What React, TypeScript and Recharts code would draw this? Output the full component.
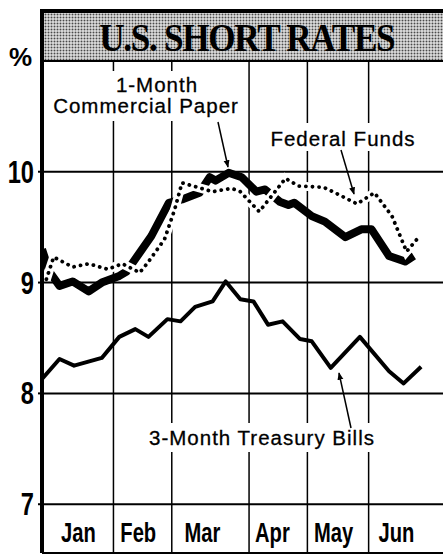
import { LineChart, Line, XAxis, YAxis, ReferenceLine, CartesianGrid } from "recharts";

// weeks since start of Jan (x), rate in % (y)
const tbillWeek = [0, 1.2, 2.2, 4.1, 5.3, 6.4, 7.3, 8.6, 9.5, 10.5, 11.7, 12.6, 13.6, 14.5, 15.5, 16.5, 17.7, 18.5, 19.8, 21.8, 23.8, 24.8, 26.0];
const tbillRate = [8.13, 8.31, 8.25, 8.32, 8.51, 8.58, 8.51, 8.67, 8.65, 8.78, 8.83, 9.01, 8.85, 8.83, 8.62, 8.65, 8.49, 8.47, 8.23, 8.51, 8.2, 8.09, 8.24];

const cpWeek = [0, 0.5, 1.2, 2.1, 3.2, 4.1, 5.3, 5.8, 7.5, 8.7, 9.6, 10.8, 11.5, 11.9, 12.8, 13.7, 14.7, 15.3, 16.3, 16.9, 17.3, 18.5, 19.4, 20.8, 21.9, 22.6, 23.8, 24.9, 25.5];
const cpRate = [9.3, 9.1, 8.97, 9.01, 8.92, 9.0, 9.06, 9.1, 9.42, 9.72, 9.75, 9.81, 9.95, 9.92, 9.99, 9.95, 9.82, 9.84, 9.73, 9.7, 9.72, 9.6, 9.55, 9.41, 9.48, 9.48, 9.24, 9.19, 9.24];

const ffWeek = [0.3, 0.8, 2.1, 3.2, 4.5, 5.5, 6.7, 7.2, 8.4, 9.1, 9.6, 11.7, 13.0, 13.6, 14.9, 16.7, 17.6, 19.3, 20.1, 21.6, 22.8, 24.0, 25.0, 25.9];
const ffRate = [9.03, 9.23, 9.14, 9.17, 9.12, 9.17, 9.09, 9.17, 9.39, 9.66, 9.9, 9.82, 9.85, 9.82, 9.64, 9.94, 9.87, 9.86, 9.81, 9.71, 9.81, 9.6, 9.28, 9.42];

const months = ["Jan", "Feb", "Mar", "Apr", "May", "Jun"];
const monthMid = [2.5, 6.6, 11.0, 15.8, 20.0, 24.3];
const monthEdges = [4.9, 8.9, 14.2, 18.2, 22.4];
const yTicks = [7, 8, 9, 10];

const toPoints = (xs: number[], ys: number[]) => xs.map((w, i) => ({ w, v: ys[i] }));
const tbill = toPoints(tbillWeek, tbillRate);
const paper = toPoints(cpWeek, cpRate);
const fedFunds = toPoints(ffWeek, ffRate);

const SANS = "'Liberation Sans', Arial, sans-serif";

function MonthTick(props: any) {
  const { x, payload } = props;
  const i = monthMid.indexOf(payload.value);
  return (
    <text
      transform={`translate(${x},542) scale(0.72,1)`}
      textAnchor="middle"
      fontFamily={SANS}
      fontWeight="bold"
      fontSize={28}
      fill="#000"
    >
      {months[i]}
    </text>
  );
}

function RateTick(props: any) {
  const { y, payload } = props;
  return (
    <text
      transform={`translate(34,${y + 11}) scale(0.74,1)`}
      textAnchor="end"
      fontFamily={SANS}
      fontWeight="bold"
      fontSize={32}
      fill="#000"
    >
      {payload.value}
    </text>
  );
}

const noAnim = { isAnimationActive: false, dot: false, activeDot: false, type: "linear" as const };

export default function App() {
  return (
    <div style={{ position: "fixed", left: 0, top: 0, width: 443, height: 555, background: "#fff", overflow: "hidden" }}>
      <LineChart width={443} height={555} margin={{ top: 62, right: 0, bottom: 1, left: 0 }}>
        <CartesianGrid horizontal={false} verticalValues={monthEdges} stroke="#000" strokeWidth={1.5} strokeDasharray="" />
        <XAxis
          type="number"
          dataKey="w"
          domain={[0, 27.5]}
          ticks={monthMid}
          interval={0}
          tick={<MonthTick />}
          height={1}
          axisLine={{ stroke: "#000", strokeWidth: 2 }}
          tickLine={false}
          allowDataOverflow
        />
        <YAxis
          type="number"
          domain={[6.56, 10.99]}
          ticks={yTicks}
          width={42}
          tick={<RateTick />}
          axisLine={{ stroke: "#000", strokeWidth: 4 }}
          tickLine={{ stroke: "#000", strokeWidth: 2 }}
          tickSize={4}
          allowDataOverflow
        />
        {yTicks.map((t) => (
          <ReferenceLine key={"y" + t} y={t} stroke="#000" strokeWidth={2} />
        ))}
        <Line data={tbill} dataKey="v" stroke="#000" strokeWidth={4} strokeLinejoin="round" {...noAnim} />
        <Line data={paper} dataKey="v" stroke="#000" strokeWidth={8} strokeLinejoin="round" {...noAnim} />
        <Line data={fedFunds} dataKey="v" stroke="#fff" strokeWidth={9} {...noAnim} />
        <Line
          data={fedFunds}
          dataKey="v"
          stroke="#000"
          strokeWidth={3.8}
          strokeDasharray="0.1 6.5"
          strokeLinecap="round"
          {...noAnim}
        />
      </LineChart>

      <div
        style={{
          position: "absolute",
          left: 40,
          top: 9,
          width: 403,
          height: 53,
          boxSizing: "border-box",
          borderTop: "4px solid #000",
          borderLeft: "4px solid #000",
          borderBottom: "2px solid #000",
          backgroundColor: "#d4d4d4",
          backgroundImage: "radial-gradient(circle, #4a4a4a 0.8px, transparent 1.1px)",
          backgroundSize: "3px 3px",
          display: "flex",
          alignItems: "center",
          justifyContent: "center",
          paddingLeft: 6,
        }}
      >
        <span
          style={{
            display: "inline-block",
            fontFamily: "'Liberation Serif', 'Times New Roman', serif",
            fontWeight: "bold",
            fontSize: 40,
            letterSpacing: -1.5,
            transform: "scaleX(0.88)",
            lineHeight: 1,
            marginTop: 2,
          }}
        >
          U.S. SHORT RATES
        </span>
      </div>

      <div
        style={{
          position: "absolute",
          left: 9,
          top: 44,
          fontFamily: SANS,
          fontWeight: "bold",
          fontSize: 26,
          lineHeight: 1,
        }}
      >
        %
      </div>

      <svg width={443} height={555} style={{ position: "absolute", left: 0, top: 0, pointerEvents: "none" }}>
        <defs>
          <marker id="arr" viewBox="0 0 10 10" refX="9" refY="5" markerWidth="5" markerHeight="8" orient="auto">
            <path d="M0,1 L10,5 L0,9 z" fill="#000" />
          </marker>
        </defs>
        <g fontFamily={SANS} fontSize={20.5} letterSpacing={1} fill="#000" stroke="#000" strokeWidth={0.3} textAnchor="middle">
          <rect x={46} y={71} width={198} height={50} fill="#fff" stroke="none" />
          <text x={157} y={92}>1-Month</text>
          <text x={146} y={113}>Commercial Paper</text>
          <rect x={268} y={123} width={152} height={28} fill="#fff" stroke="none" />
          <text x={343} y={146}>Federal Funds</text>
          <rect x={142} y={423} width={242} height={29} fill="#fff" stroke="none" />
          <text x={262} y={445}>3-Month Treasury Bills</text>
        </g>
        <line x1={218} y1={122} x2={228} y2={167} stroke="#000" strokeWidth={1.5} markerEnd="url(#arr)" />
        <line x1={341} y1={150} x2={354} y2={194} stroke="#000" strokeWidth={1.5} markerEnd="url(#arr)" />
        <line x1={351} y1={428} x2={339} y2={373} stroke="#000" strokeWidth={1.5} markerEnd="url(#arr)" />
      </svg>
    </div>
  );
}
